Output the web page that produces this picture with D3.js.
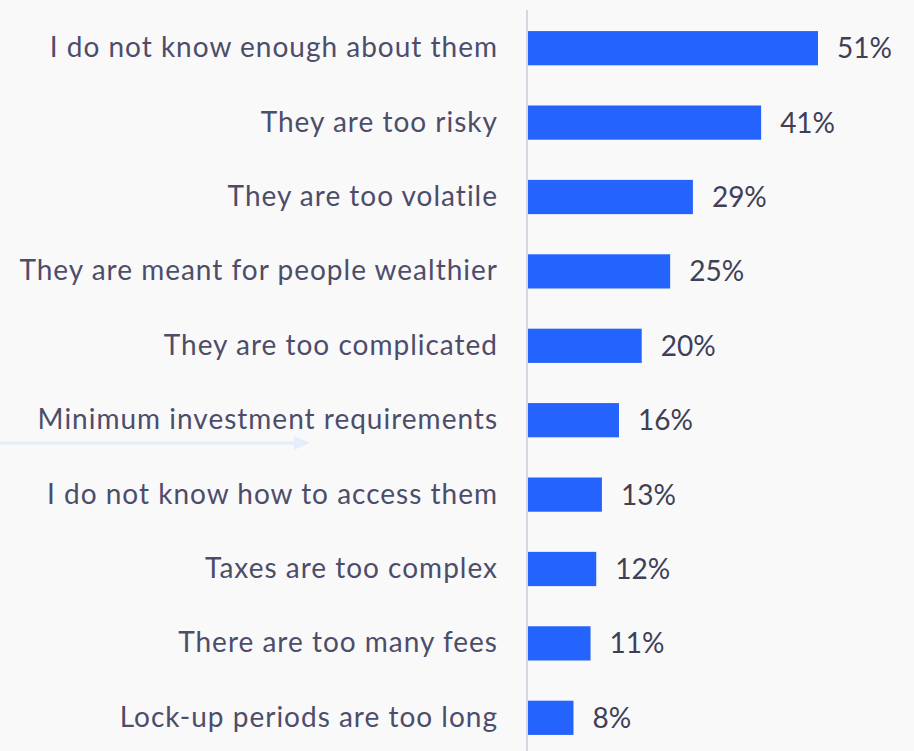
<!DOCTYPE html>
<html>
<head>
<meta charset="utf-8">
<script src="https://cdn.jsdelivr.net/npm/d3@7"></script>
<style>
  html, body { margin: 0; padding: 0; background: #f9f9fa; }
  svg { display: block; }
</style>
</head>
<body>
<div id="block"></div>
<script>
// data
var categories = [
    "I do not know enough about them",
    "They are too risky",
    "They are too volatile",
    "They are meant for people wealthier",
    "They are too complicated",
    "Minimum investment requirements",
    "I do not know how to access them",
    "Taxes are too complex",
    "There are too many fees",
    "Lock-up periods are too long"
];
var shares = [51, 41, 29, 25, 20, 16, 13, 12, 11, 8];

// dimensions
var svg_dx = 914,
    svg_dy = 751,
    axis_x = 528;

var svg = d3.select("#block")
            .append("svg")
            .attr("width", svg_dx)
            .attr("height", svg_dy);

var xScale = d3.scaleLinear()
               .domain([0, 51])
               .range([axis_x, 818]);

var yScale = d3.scaleBand()
               .domain(categories)
               .range([11, 755])
               .paddingInner(0.54)
               .paddingOuter(0.27);

// faint arrow left over in the background
svg.append("line")
   .attr("x1", 0).attr("x2", 296)
   .attr("y1", 443).attr("y2", 443)
   .attr("stroke", "#e4eefb")
   .attr("stroke-width", 3);
svg.append("path")
   .attr("d", "M294,436 L310,443 L294,450 Z")
   .attr("fill", "#e4eefb");

// bars
svg.append("g")
   .selectAll("rect")
   .data(shares)
   .enter()
   .append("rect")
   .attr("x", xScale(0))
   .attr("y", function(d, i) { return yScale(categories[i]); })
   .attr("width", function(d) { return xScale(d) - xScale(0); })
   .attr("height", yScale.bandwidth())
   .attr("fill", "#2563fd");

// y axis: only the domain line and labels
var yAxis = d3.axisLeft(yScale).tickSize(0).tickPadding(29);
var y_axis = svg.append("g")
                .attr("transform", "translate(" + (axis_x - 1) + ",0)")
                .call(yAxis);
y_axis.select(".domain")
      .attr("d", "M0,10V751")
      .attr("stroke", "#d6d6de")
      .attr("stroke-width", 2);
y_axis.selectAll("text")
      .attr("fill", "#4d4d6a")
      .style("font-family", "Lato, 'Noto Sans', sans-serif")
      .style("font-size", "28px")
      .style("letter-spacing", "1px");

// value labels
svg.append("g")
   .selectAll("text")
   .data(shares)
   .enter()
   .append("text")
   .attr("x", function(d) { return xScale(d) + 19; })
   .attr("y", function(d, i) { return yScale(categories[i]) + yScale.bandwidth() / 2; })
   .attr("dy", "0.36em")
   .attr("fill", "#3f3f56")
   .style("font-family", "Lato, 'Noto Sans', sans-serif")
   .style("font-size", "28px")
   .text(function(d) { return d + "%"; });
</script>
</body>
</html>
